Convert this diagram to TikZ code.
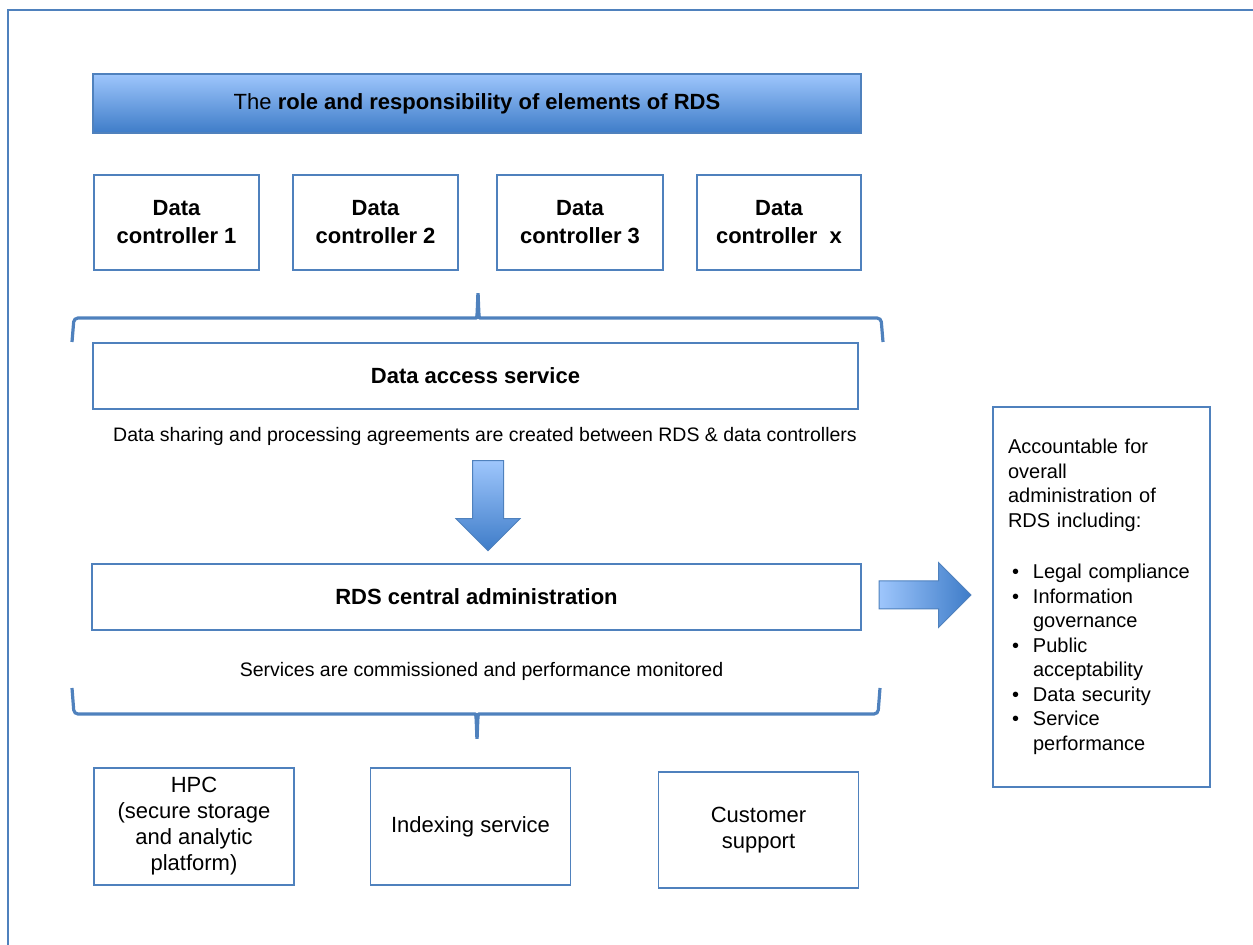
\documentclass[tikz,border=0pt]{standalone}
\usepackage{fontspec}
\setmainfont{Liberation Sans}
\usetikzlibrary{shapes.arrows}
\definecolor{rdsblue}{RGB}{79,129,189}
\definecolor{shadetop}{RGB}{158,198,252}
\definecolor{shadebot}{RGB}{62,124,200}
\newcommand{\acctitem}[1]{\makebox[12.5pt][l]{\hspace{2pt}\textbullet}#1}
\newcommand{\acctmore}[1]{\hspace*{12.5pt}#1}

\begin{document}
\begin{tikzpicture}[x=0.5pt, y=-0.5pt,
  box/.style={draw=rdsblue, line width=0.8pt, align=center, inner sep=0pt,
    font=\fontsize{11}{13}\selectfont},
  note/.style={font=\fontsize{9.75}{12}\selectfont, inner sep=0pt},
  bracket/.style={draw=rdsblue, line width=1.6pt, rounded corners=2pt},
  blockarrow/.style={single arrow, draw=rdsblue, line width=0.5pt,
    single arrow head indent=0pt}]
  \useasboundingbox (0,0) rectangle (1253,945);
  \draw[rdsblue, line width=1pt] (8,960) -- (8,10) -- (1270,10);

  \node[box, top color=shadetop, bottom color=shadebot,
    minimum width=384pt, minimum height=29.5pt] (title) at (477,103.5)
    {The \textbf{role and responsibility of elements of RDS}};

  \node[box, minimum width=82.5pt, minimum height=47.5pt, font=\fontsize{11}{14}\selectfont\bfseries]
    (dc1) at (176.5,222.5) {Data\\controller 1};
  \node[box, minimum width=82.5pt, minimum height=47.5pt, font=\fontsize{11}{14}\selectfont\bfseries]
    (dc2) at (375.5,222.5) {Data\\controller 2};
  \node[box, minimum width=83pt, minimum height=47.5pt, font=\fontsize{11}{14}\selectfont\bfseries]
    (dc3) at (580,222.5) {Data\\controller 3};
  \node[box, minimum width=82pt, minimum height=47.5pt, font=\fontsize{11}{14}\selectfont\bfseries]
    (dcx) at (779,222.5) {Data\\controller\ \ x};

  \draw[bracket] (72,342) -- (74,318) -- (472,318)
    .. controls (477,318) .. (478,291) .. controls (479,318) .. (484,318)
    -- (881,318) -- (883,342);

  \node[box, minimum width=382.5pt, minimum height=33pt, font=\fontsize{11}{14}\selectfont\bfseries]
    (access) at (475.5,376) {Data access service};
  \node[note] (sharing) at (485,436)
    {Data sharing and processing agreements are created between RDS \& data controllers};

  \node[blockarrow, shape border rotate=270, top color=shadetop, bottom color=shadebot,
    inner sep=7.5pt, minimum height=45pt, minimum width=31.5pt,
    single arrow head extend=8.25pt] (down) at (488,498) {};

  \node[box, minimum width=384.5pt, minimum height=33pt, font=\fontsize{11}{14}\selectfont\bfseries]
    (admin) at (476.5,597) {RDS central administration};
  \node[note] (services) at (481.5,671)
    {Services are commissioned and performance monitored};

  \draw[bracket] (72,688) -- (74,714) -- (471,714)
    .. controls (476,714) .. (477,741) .. controls (478,714) .. (483,714)
    -- (878,714) -- (880,688);

  \node[blockarrow, left color=shadetop, right color=shadebot,
    inner sep=6.75pt, minimum height=46pt, minimum width=32pt,
    single arrow head extend=9.25pt] (right) at (918,595) {};

  \node[box, align=left, inner xsep=7.5pt, text width=93.5pt, minimum height=190pt,
    font=\fontsize{10}{12.25}\selectfont] (acct) at (1101.5,597)
    {Accountable for\\
     overall\\
     administration of\\
     RDS including:\\[13.5pt]
     \acctitem{Legal compliance}\\
     \acctitem{Information}\\
     \acctmore{governance}\\
     \acctitem{Public}\\
     \acctmore{acceptability}\\
     \acctitem{Data security}\\
     \acctitem{Service}\\
     \acctmore{performance}};

  \node[box, minimum width=100pt, minimum height=58.5pt] (hpc) at (194,826.5)
    {HPC\\(secure storage\\and analytic\\platform)};
  \node[box, minimum width=100pt, minimum height=58.5pt] (index) at (470.5,826.5)
    {Indexing service};
  \node[box, minimum width=100pt, minimum height=58pt] (support) at (758.5,830)
    {Customer\\support};
\end{tikzpicture}
\end{document}
